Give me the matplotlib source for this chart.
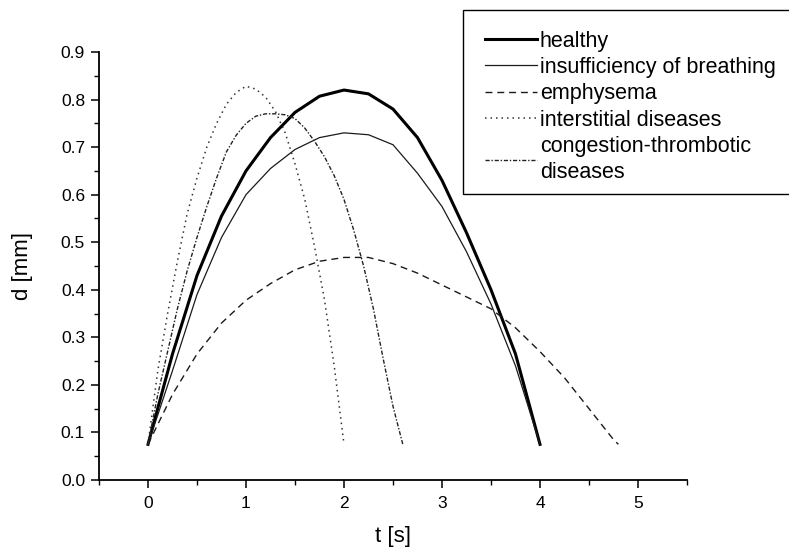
import matplotlib
matplotlib.use("Agg")
import matplotlib.pyplot as plt
from matplotlib.patches import Rectangle
from matplotlib.ticker import MultipleLocator, FormatStrFormatter

plt.rcParams['font.family'] = ['Liberation Sans', 'DejaVu Sans']

# values
t_healthy = [0, 0.25, 0.5, 0.75, 1.0, 1.25, 1.5, 1.75, 2.0, 2.25, 2.5, 2.75, 3.0, 3.25, 3.5, 3.75, 4.0]
d_healthy = [0.075, 0.265, 0.43, 0.555, 0.65, 0.72, 0.773, 0.807, 0.82, 0.812, 0.78, 0.72, 0.63, 0.52, 0.40, 0.265, 0.075]

t_insuff = t_healthy
d_insuff = [0.075, 0.23, 0.39, 0.51, 0.60, 0.655, 0.695, 0.72, 0.73, 0.726, 0.705, 0.645, 0.575, 0.48, 0.37, 0.24, 0.075]

t_emph = [0, 0.25, 0.5, 0.75, 1.0, 1.25, 1.5, 1.75, 2.0, 2.25, 2.5, 2.75, 3.0, 3.25, 3.5, 3.75, 4.0, 4.25, 4.5, 4.75, 4.8]
d_emph = [0.075, 0.18, 0.265, 0.33, 0.378, 0.413, 0.442, 0.46, 0.468, 0.468, 0.455, 0.435, 0.41, 0.385, 0.36, 0.32, 0.27, 0.215, 0.15, 0.085, 0.075]

t_inter = [0, 0.1, 0.2, 0.3, 0.4, 0.5, 0.6, 0.7, 0.8, 0.9, 1.0, 1.1, 1.2, 1.3, 1.4, 1.5, 1.6, 1.7, 1.8, 1.9, 2.0]
d_inter = [0.075, 0.23, 0.35, 0.46, 0.56, 0.635, 0.70, 0.75, 0.79, 0.815, 0.828, 0.822, 0.805, 0.775, 0.73, 0.665, 0.59, 0.49, 0.38, 0.24, 0.075]

t_cong = [0, 0.1, 0.2, 0.3, 0.4, 0.5, 0.6, 0.7, 0.8, 0.9, 1.0, 1.1, 1.2, 1.3, 1.4, 1.5, 1.6, 1.7, 1.8, 1.9, 2.0, 2.1, 2.2, 2.3, 2.4, 2.5, 2.6]
d_cong = [0.075, 0.18, 0.27, 0.36, 0.44, 0.51, 0.575, 0.635, 0.69, 0.725, 0.75, 0.765, 0.77, 0.77, 0.768, 0.76, 0.74, 0.712, 0.68, 0.64, 0.59, 0.525, 0.45, 0.36, 0.255, 0.155, 0.075]

labels = ["healthy", "insufficiency of breathing", "emphysema",
          "interstitial diseases", "congestion-thrombotic\ndiseases"]

fig = plt.figure(figsize=(7.89, 5.55), dpi=100)
ax = fig.add_axes([99 / 789, 75 / 555, 588 / 789, 428 / 555])

ax.plot(t_healthy, d_healthy, color='black', lw=2.2, label=labels[0])
ax.plot(t_insuff, d_insuff, color='#1a1a1a', lw=0.9, label=labels[1])
ax.plot(t_emph, d_emph, color='#1a1a1a', lw=1.0, linestyle=(0, (5, 3.5)), label=labels[2])
ax.plot(t_inter, d_inter, color='#333333', lw=1.1, linestyle=(0, (1, 2.6)), label=labels[3])
ax.plot(t_cong, d_cong, color='#222222', lw=1.0, linestyle=(0, (3, 1.3, 1, 1.3)), label=labels[4])

ax.set_xlim(-0.5, 5.5)
ax.set_ylim(0, 0.9)
ax.xaxis.set_major_locator(MultipleLocator(1))
ax.xaxis.set_minor_locator(MultipleLocator(0.5))
ax.yaxis.set_major_locator(MultipleLocator(0.1))
ax.yaxis.set_minor_locator(MultipleLocator(0.05))
ax.yaxis.set_major_formatter(FormatStrFormatter('%.1f'))

ax.spines['top'].set_visible(False)
ax.spines['right'].set_visible(False)
for s in ['left', 'bottom']:
    ax.spines[s].set_linewidth(1.3)
ax.tick_params(which='major', direction='out', length=6, width=1.1, labelsize=12.5)
ax.tick_params(axis='x', which='major', pad=5.5)
ax.tick_params(axis='y', which='major', pad=4)
ax.tick_params(which='minor', direction='out', length=3.5, width=1.0)

ax.set_xlabel('t [s]', fontsize=16)
ax.set_ylabel('d [mm]', fontsize=16)
ax.xaxis.set_label_coords(0.5, -0.1075)
ax.yaxis.set_label_coords(-0.112, 0.5)

# legend box runs off the right edge of the figure
box = Rectangle((463 / 789, 1 - 194 / 555), 340 / 789, 184 / 555,
                transform=fig.transFigure, fill=False, edgecolor='black',
                lw=1.0, clip_on=False)
fig.patches.append(box)

leg = fig.legend(loc='upper left', bbox_to_anchor=(485 / 789, 1 - 30.5 / 555),
                 borderaxespad=0, borderpad=0, fontsize=15.5, handlelength=2.4,
                 handletextpad=0.15, labelspacing=0.25, frameon=False)
leg.get_texts()[4].set_linespacing(1.3)

fig.savefig('out.png', dpi=100)
